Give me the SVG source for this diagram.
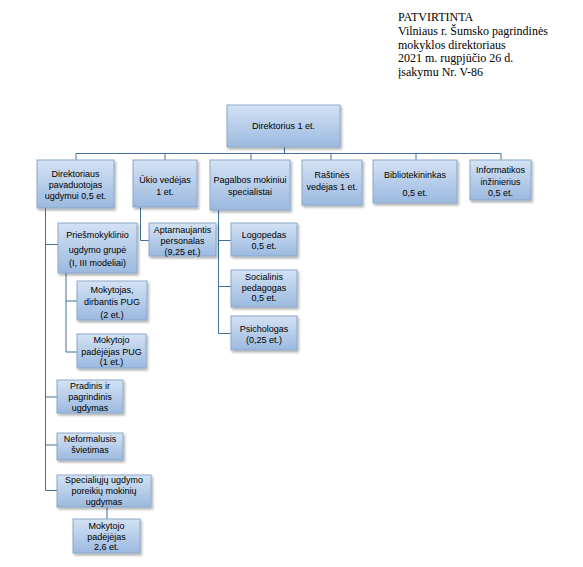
<svg xmlns="http://www.w3.org/2000/svg" width="583" height="567" viewBox="0 0 583 567">
<defs>
<linearGradient id="g" x1="0" y1="0" x2="0" y2="1">
<stop offset="0" stop-color="#d4e2f4"/>
<stop offset="1" stop-color="#9bb9df"/>
</linearGradient>
<filter id="sh" x="-10%" y="-10%" width="130%" height="140%">
<feDropShadow dx="1.5" dy="2" stdDeviation="1.2" flood-color="#000" flood-opacity="0.3"/>
</filter>
</defs>
<style>
rect.b{fill:url(#g);stroke:#8ba7c9;stroke-width:1;filter:url(#sh)}
text.t{font-family:"Liberation Sans",Arial,sans-serif;font-size:9px;fill:#000;text-anchor:middle}
text.h{font-family:"Liberation Serif","Times New Roman",serif;font-size:12px;fill:#000}
#connectors path{fill:none;stroke:#41719c;stroke-width:1}
</style>
<rect width="583" height="567" fill="#fff"/>
<g id="header">
<text class="h" x="398" y="21">PATVIRTINTA</text>
<text class="h" x="398" y="35">Vilniaus r. Šumsko pagrindinės</text>
<text class="h" x="398" y="48.5">mokyklos direktoriaus</text>
<text class="h" x="398" y="62">2021 m. rugpjūčio 26 d.</text>
<text class="h" x="398" y="76">įsakymu Nr. V-86</text>
</g>
<g id="connectors">
<path d="M284.5,147V153.5M76,153.5H501M76,153.5V160M165,153.5V160M251,153.5V160M331,153.5V160M416,153.5V160M501,153.5V160"/>
<path d="M45.5,208V490.5M45.5,244.5H58M45.5,397H57M45.5,445H57M45.5,490.5H57"/>
<path d="M66,273V352M66,301H77M66,352H77"/>
<path d="M140.5,207V240.5H149"/>
<path d="M218.5,210V333.5M218.5,240.5H231M218.5,286.5H231M218.5,333.5H231"/>
<path d="M107,507V519"/>
</g>
<g id="n-direktorius"><rect class="b" x="227" y="105" width="113" height="42"/><text class="t" x="283.5" y="129">Direktorius 1 et.</text></g>
<g id="n-pavaduotojas"><rect class="b" x="37" y="160" width="77" height="48"/><text class="t" x="75.5" y="176.5">Direktoriaus</text><text class="t" x="75.5" y="187.5">pavaduotojas</text><text class="t" x="75.5" y="198.5">ugdymui 0,5 et.</text></g>
<g id="n-ukio"><rect class="b" x="133" y="160" width="64" height="47"/><text class="t" x="165" y="183">Ūkio vedėjas</text><text class="t" x="165" y="195">1 et.</text></g>
<g id="n-pagalbos"><rect class="b" x="210" y="160" width="80" height="50"/><text class="t" x="250" y="183">Pagalbos mokiniui</text><text class="t" x="250" y="195">specialistai</text></g>
<g id="n-rastines"><rect class="b" x="302" y="160" width="60" height="45"/><text class="t" x="332" y="178">Raštinės</text><text class="t" x="332" y="190">vedėjas 1 et.</text></g>
<g id="n-bibliotekininkas"><rect class="b" x="373" y="160" width="84" height="43"/><text class="t" x="415" y="177.5">Bibliotekininkas</text><text class="t" x="415" y="195.5">0,5 et.</text></g>
<g id="n-informatikos"><rect class="b" x="470" y="160" width="61" height="40"/><text class="t" x="500.5" y="172.5">Informatikos</text><text class="t" x="500.5" y="184.5">inžinierius</text><text class="t" x="500.5" y="195.5">0,5 et.</text></g>
<g id="n-priesmokyklinio"><rect class="b" x="58" y="223" width="79" height="50"/><text class="t" x="97.5" y="238">Priešmokyklinio</text><text class="t" x="97.5" y="252.5">ugdymo grupė</text><text class="t" x="97.5" y="266">(I, III modeliai)</text></g>
<g id="n-mokytojas"><rect class="b" x="77" y="281" width="70" height="39"/><text class="t" x="112" y="293">Mokytojas,</text><text class="t" x="112" y="304.5">dirbantis PUG</text><text class="t" x="112" y="318">(2 et.)</text></g>
<g id="n-padejejas-pug"><rect class="b" x="77" y="334" width="69" height="34"/><text class="t" x="111.5" y="343">Mokytojo</text><text class="t" x="111.5" y="354.5">padėjėjas PUG</text><text class="t" x="111.5" y="364.5">(1 et.)</text></g>
<g id="n-aptarnaujantis"><rect class="b" x="149" y="223" width="67" height="33"/><text class="t" x="182.5" y="232.5">Aptarnaujantis</text><text class="t" x="182.5" y="244">personalas</text><text class="t" x="182.5" y="255">(9,25 et.)</text></g>
<g id="n-logopedas"><rect class="b" x="231" y="223" width="66" height="33"/><text class="t" x="264" y="238">Logopedas</text><text class="t" x="264" y="248.5">0,5 et.</text></g>
<g id="n-socialinis"><rect class="b" x="231" y="270" width="66" height="37"/><text class="t" x="264" y="280">Socialinis</text><text class="t" x="264" y="290.5">pedagogas</text><text class="t" x="264" y="300.5">0,5 et.</text></g>
<g id="n-psichologas"><rect class="b" x="231" y="316" width="66" height="34"/><text class="t" x="264" y="331.5">Psichologas</text><text class="t" x="264" y="342.5">(0,25 et.)</text></g>
<g id="n-pradinis"><rect class="b" x="57" y="380" width="66" height="33"/><text class="t" x="90" y="389">Pradinis ir</text><text class="t" x="90" y="400">pagrindinis</text><text class="t" x="90" y="411">ugdymas</text></g>
<g id="n-neformalusis"><rect class="b" x="57" y="433" width="66" height="27"/><text class="t" x="90" y="441.5">Neformalusis</text><text class="t" x="90" y="453">švietimas</text></g>
<g id="n-specialiuju"><rect class="b" x="57" y="475" width="94" height="32"/><text class="t" x="104" y="482.5">Specialiųjų ugdymo</text><text class="t" x="104" y="494">poreikių mokinių</text><text class="t" x="104" y="505">ugdymas</text></g>
<g id="n-padejejas"><rect class="b" x="73" y="519" width="67" height="34"/><text class="t" x="106.5" y="529">Mokytojo</text><text class="t" x="106.5" y="540">padėjėjas</text><text class="t" x="106.5" y="550">2,6 et.</text></g>
</svg>
